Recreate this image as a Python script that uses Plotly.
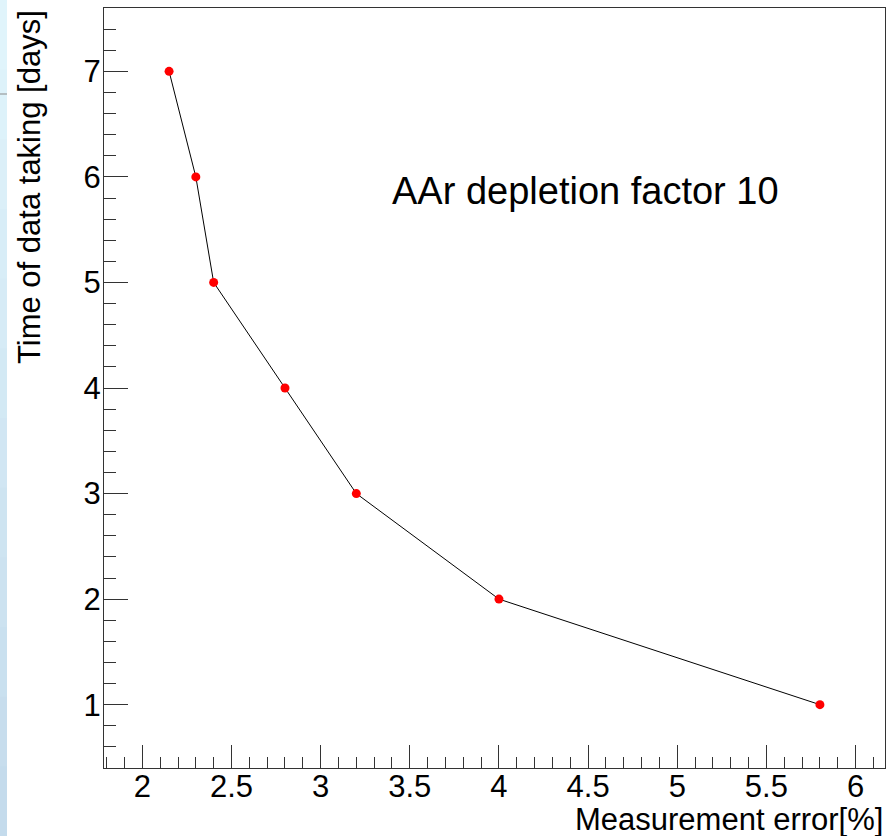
import plotly.graph_objects as go

# Data
measurement_error = [2.15, 2.3, 2.4, 2.8, 3.2, 4.0, 5.8]
days = [7, 6, 5, 4, 3, 2, 1]
x_title = "Measurement error[%]"
y_title = "Time of data taking [days]"
label = "AAr depletion factor 10"
x_tickvals = [2, 2.5, 3, 3.5, 4, 4.5, 5, 5.5, 6]
x_ticktext = ["2", "2.5", "3", "3.5", "4", "4.5", "5", "5.5", "6"]
y_tickvals = [1, 2, 3, 4, 5, 6, 7]

W, H = 887, 836
L, R, T, B = 104, 2, 8, 68
pw = W - L - R
ph = H - T - B

FONT = "Liberation Sans, Arial, Helvetica, sans-serif"
AX = "#333333"

fig = go.Figure()
fig.add_trace(go.Scatter(
    x=measurement_error, y=days, mode="lines+markers",
    line=dict(color="black", width=1),
    marker=dict(color="#ff0000", size=9),
    showlegend=False,
))

fig.update_layout(
    width=W, height=H,
    margin=dict(l=L, r=R, t=T, b=B, pad=0),
    paper_bgcolor="white", plot_bgcolor="white",
    font=dict(family=FONT, color="black", size=31),
)

fig.update_xaxes(
    range=[1.785, 6.165], showgrid=False, zeroline=False,
    showline=True, linecolor=AX, linewidth=1, mirror=True,
    ticks="inside", ticklen=23, tickwidth=1, tickcolor=AX,
    tickvals=x_tickvals, ticktext=x_ticktext,
    tickfont=dict(size=31, family=FONT, color="black"),
    minor=dict(dtick=0.1, tick0=0, ticks="inside", ticklen=11, tickwidth=1, tickcolor=AX),
    ticklabelstandoff=-9,
)
fig.update_yaxes(
    range=[0.4, 7.6], showgrid=False, zeroline=False,
    showline=True, linecolor=AX, linewidth=1, mirror=True,
    ticks="inside", ticklen=24, tickwidth=1, tickcolor=AX,
    tickvals=y_tickvals,
    tickfont=dict(size=31, family=FONT, color="black"),
    minor=dict(dtick=0.2, tick0=0, ticks="inside", ticklen=12, tickwidth=1, tickcolor=AX),
    ticklabelstandoff=-4,
)

# Left light-blue gradient strip (screenshot artifact)
n = 12
top_rgb = (224, 244, 251)
bot_rgb = (196, 219, 236)
for i in range(n):
    f = i / (n - 1)
    c = tuple(int(round(top_rgb[k] + (bot_rgb[k] - top_rgb[k]) * f)) for k in range(3))
    y1 = 1 + T / ph - i * (H / n) / ph
    y0 = y1 - (H / n) / ph - 0.002
    fig.add_shape(type="rect", xref="paper", yref="paper",
                  x0=-L / pw, x1=(7 - L) / pw, y0=y0, y1=y1,
                  fillcolor="rgb(%d,%d,%d)" % c, line=dict(width=0), layer="below")
fig.add_shape(type="line", xref="paper", yref="paper",
              x0=-L / pw, x1=(7 - L) / pw, y0=1 - (94 - T) / ph, y1=1 - (94 - T) / ph,
              line=dict(color="#8a8a8a", width=1))

# Axis titles (ROOT style, right/top aligned)
fig.add_annotation(text=x_title, xref="paper", yref="paper",
                   x=1, y=-(819 - 768) / ph, xanchor="right", yanchor="middle",
                   showarrow=False, font=dict(size=31, family=FONT, color="black"))
fig.add_annotation(text=y_title, xref="paper", yref="paper",
                   x=(29 - L) / pw, y=1, xanchor="center", yanchor="top", textangle=-90,
                   showarrow=False, font=dict(size=31, family=FONT, color="black"))
fig.add_annotation(text=label, xref="paper", yref="paper",
                   x=(585 - L) / pw, y=1 - (191 - T) / ph, xanchor="center", yanchor="middle",
                   showarrow=False, font=dict(size=38, family=FONT, color="black"))

fig.write_html("out.html", config={"displayModeBar": False},
               post_script="document.body.style.margin='0px';document.body.style.overflow='hidden';")
